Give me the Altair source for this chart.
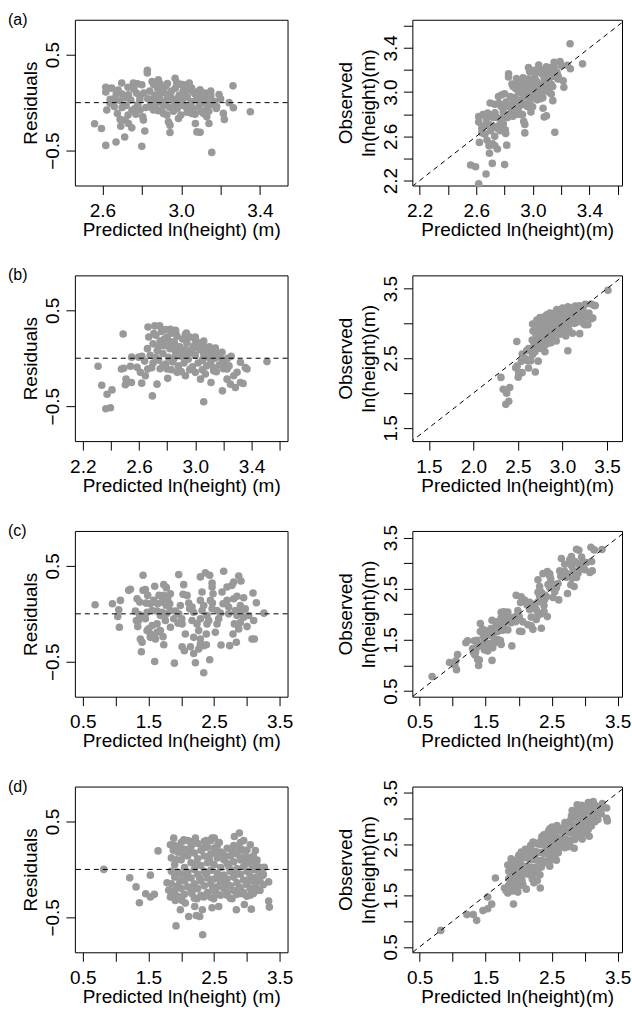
import altair as alt
import pandas as pd

FONT = "Liberation Sans"
DOT = "#999999"

# (predicted ln(height), residual)
pts_a = [
    (2.56, -0.22), (2.595, -0.27), (2.617, -0.446), (2.669, -0.41), (2.713, -0.358), (2.80, -0.456),
    (2.815, -0.295), (2.943, -0.312), (3.072, -0.218), (3.08, -0.305), (3.096, -0.31), (3.141, -0.218),
    (3.155, -0.519), (3.214, -0.112), (3.219, -0.175), (3.263, 0.175), (3.265, -0.053), (3.243, 0.0),
    (3.351, -0.095), (3.192, 0.084), (3.178, -0.06), (2.828, 0.337), (2.828, 0.309), (2.617, 0.161),
    (2.617, 0.112), (2.647, 0.151), (2.698, 0.204), (2.639, 0.035), (2.639, -0.007), (2.622, -0.077),
    (2.676, -0.112), (2.69, -0.175), (2.715, -0.182), (2.732, -0.218), (2.749, -0.263), (2.693, -0.246),
    (2.757, 0.204), (2.778, 0.196), (2.80, 0.186), (2.774, 0.098), (2.791, 0.063), (2.732, 0.081),
    (2.744, 0.028), (2.766, -0.06), (2.791, -0.077), (2.805, -0.147), (2.808, -0.182), (2.852, 0.221),
    (2.884, 0.239), (2.893, 0.196), (2.969, 0.253), (2.977, 0.21), (3.011, 0.186), (3.041, 0.204),
    (3.053, 0.151), (3.096, 0.133), (3.13, 0.081), (2.935, -0.2), (2.943, -0.235), (2.986, -0.165),
    (2.998, -0.13), (3.053, -0.112), (3.113, -0.112), (3.13, -0.147), (2.839, -0.042), (2.859, -0.077),
    (2.884, -0.084), (2.91, -0.112), (2.927, -0.13),
    (2.84, 0.12), (2.86, 0.05), (2.88, 0.15), (2.88, 0.00), (2.90, 0.10), (2.91, -0.03), (2.92, 0.17),
    (2.93, 0.06), (2.94, -0.05), (2.95, 0.12), (2.96, 0.02), (2.97, 0.15), (2.98, -0.06), (2.99, 0.08),
    (3.00, 0.00), (3.01, 0.12), (3.02, -0.04), (3.03, 0.06), (3.04, 0.14), (3.05, 0.01), (3.06, -0.07),
    (3.07, 0.09), (3.08, 0.03), (3.09, -0.04), (3.10, 0.06), (3.11, 0.00), (3.12, 0.10), (3.13, -0.06),
    (3.14, 0.03), (3.15, 0.07), (3.16, -0.02), (3.17, 0.01), (2.87, 0.08), (2.93, 0.20), (2.96, -0.09),
    (3.00, 0.19), (3.03, -0.10), (2.90, -0.08), (2.85, -0.02), (2.81, 0.10), (2.79, 0.03), (2.76, 0.14),
    (2.73, 0.16), (2.70, 0.09), (2.68, 0.13), (2.66, 0.04), (2.72, -0.03), (2.75, -0.08), (2.70, -0.05),
    (2.66, -0.04), (2.69, 0.02), (2.77, -0.12), (2.73, -0.13), (2.82, -0.05), (3.06, 0.11), (3.09, 0.12),
    (3.12, 0.05), (3.14, -0.09), (3.10, -0.09), (3.07, -0.12), (3.18, -0.04), (2.98, 0.04), (2.94, 0.09),
    (3.02, 0.09), (2.89, 0.04), (2.86, 0.19), (2.97, -0.02), (3.05, -0.03), (3.15, 0.12), (3.20, 0.04),
    (2.87, -0.05), (2.92, 0.01), (2.95, 0.05), (2.99, -0.03), (3.01, 0.04), (3.04, -0.06), (3.08, 0.06),
    (3.11, 0.08), (3.13, 0.01), (2.83, 0.04), (2.78, -0.02), (2.72, 0.05), (2.67, 0.09), (2.91, 0.13),
]

pts_b = [
    (2.309, -0.084), (2.335, -0.281), (2.373, -0.375), (2.408, -0.33), (2.364, -0.526), (2.397, -0.516),
    (2.487, 0.253), (2.475, -0.112), (2.491, -0.105), (2.508, -0.218), (2.503, -0.277), (2.546, -0.253),
    (2.539, -0.084), (2.548, 0.011), (2.598, 0.011), (2.586, -0.095), (2.619, -0.26), (2.695, -0.393),
    (2.664, 0.326), (2.712, 0.337), (2.747, 0.337), (2.669, 0.221), (2.705, 0.256), (2.804, -0.21),
    (2.728, -0.27), (2.823, 0.302), (2.859, 0.291), (2.937, 0.263), (3.00, 0.196), (3.06, -0.453),
    (3.112, -0.253), (3.143, 0.105), (3.19, 0.063), (3.193, -0.34), (3.255, 0.021), (3.285, -0.305),
    (3.321, -0.253), (3.226, -0.218), (3.25, -0.27), (3.34, -0.263), (3.356, -0.098), (3.368, -0.112),
    (3.321, -0.042), (3.51, -0.035), (3.226, -0.112), (3.273, -0.182), (3.297, -0.147), (2.61, -0.147),
    (2.645, -0.182), (2.662, -0.112), (2.80, -0.112), (2.871, -0.147), (2.93, -0.182), (3.037, -0.218),
    (3.072, -0.165), (3.131, -0.13), (2.965, -0.112), (3.00, -0.147),
    (2.66, 0.10), (2.68, 0.03), (2.70, 0.15), (2.70, -0.05), (2.72, 0.24), (2.73, 0.08), (2.74, -0.02),
    (2.75, 0.18), (2.76, 0.28), (2.77, 0.05), (2.78, 0.13), (2.79, -0.06), (2.80, 0.22), (2.81, 0.01),
    (2.82, 0.10), (2.83, 0.26), (2.84, -0.04), (2.85, 0.17), (2.86, 0.06), (2.87, 0.23), (2.88, -0.08),
    (2.89, 0.12), (2.90, 0.02), (2.91, 0.20), (2.92, -0.05), (2.93, 0.09), (2.94, 0.16), (2.95, -0.01),
    (2.96, 0.22), (2.97, 0.06), (2.98, -0.09), (2.99, 0.13), (3.00, 0.03), (3.01, 0.17), (3.02, -0.05),
    (3.03, 0.09), (3.04, 0.14), (3.05, -0.02), (3.06, 0.05), (3.07, 0.11), (3.08, -0.08), (3.09, 0.02),
    (3.10, 0.08), (3.11, -0.04), (3.12, 0.05), (3.13, -0.10), (3.14, 0.00), (3.16, 0.04), (3.17, -0.07),
    (3.19, -0.01), (3.21, -0.05), (3.23, 0.00), (3.24, -0.08), (2.64, -0.03), (2.62, 0.02), (2.69, -0.10),
    (2.75, -0.11), (2.83, -0.12), (2.90, -0.14), (2.96, -0.12), (3.05, -0.12), (3.15, -0.14), (3.20, -0.11),
    (2.79, 0.30), (2.86, 0.28), (2.93, 0.25), (3.00, 0.22), (3.06, 0.18),
    (2.74, 0.12), (2.78, 0.20), (2.82, 0.17), (2.86, 0.13), (2.90, 0.09), (2.94, 0.04), (2.98, 0.10),
    (3.02, 0.13), (3.06, 0.00), (3.10, 0.12), (3.14, 0.07), (2.72, 0.01), (2.77, -0.08), (2.85, 0.00),
]

pts_c = [
    (0.688, 0.094), (0.952, 0.105), (1.074, 0.14), (1.048, 0.042), (1.033, -0.028), (1.058, -0.14),
    (1.20, 0.245), (1.226, 0.255), (1.419, 0.402), (1.327, 0.157), (1.368, 0.122), (1.302, 0.028),
    (1.317, -0.07), (1.338, -0.133), (1.378, -0.262), (1.404, -0.297), (1.393, -0.395), (1.419, 0.245),
    (1.454, 0.252), (1.49, 0.192), (1.596, 0.287), (1.596, -0.497), (1.734, 0.304), (1.774, 0.273),
    (1.835, 0.21), (1.794, 0.157), (1.734, -0.322), (1.896, -0.514), (1.962, 0.409), (2.038, 0.304),
    (2.028, 0.203), (2.089, 0.192), (1.987, 0.087), (1.952, -0.098), (2.013, -0.105), (2.063, -0.21),
    (2.013, -0.343), (2.048, -0.385), (2.14, -0.343), (2.216, -0.51), (2.343, -0.615), (2.434, -0.479),
    (2.19, -0.413), (2.266, -0.367), (2.292, -0.315), (2.343, -0.332), (2.383, -0.322), (2.292, 0.385),
    (2.368, 0.427), (2.434, 0.402), (2.47, 0.322), (2.47, 0.28), (2.647, 0.444), (2.317, 0.227),
    (2.292, 0.14), (2.485, 0.21), (2.475, 0.112), (2.622, 0.227), (2.698, 0.28), (2.774, 0.297),
    (2.876, 0.395), (2.911, 0.343), (2.799, 0.332), (3.094, 0.217), (3.145, 0.115), (3.261, 0.007),
    (3.104, -0.07), (3.079, -0.262), (3.114, -0.262), (3.003, -0.133), (2.952, -0.035), (2.84, -0.297),
    (2.739, -0.332), (2.607, -0.325), (2.789, -0.21), (2.876, -0.157), (2.81, -0.105), (2.901, -0.091),
    (2.952, 0.168), (2.85, 0.182), (2.799, 0.157), (2.901, 0.087), (2.926, 0.035), (2.698, 0.14),
    (2.723, 0.07), (2.596, 0.007), (2.571, -0.052), (2.546, -0.105), (2.52, -0.192), (2.393, -0.105),
    (2.419, -0.07), (2.241, -0.105), (2.266, -0.175), (2.19, -0.245), (2.165, -0.07), (2.19, 0.017),
    (2.165, 0.07), (2.317, 0.035), (2.343, 0.087), (2.114, 0.112), (2.129, 0.052), (1.886, -0.052),
    (1.835, -0.14), (1.759, -0.07), (1.683, -0.017), (1.632, -0.105), (1.505, -0.157), (1.53, -0.21),
    (1.571, -0.227), (1.632, -0.192), (1.48, -0.175), (1.53, -0.245), (1.454, -0.052), (1.419, -0.035),
    (1.53, 0.105), (1.581, 0.14), (1.642, 0.105), (1.708, 0.122), (1.774, 0.087), (1.825, 0.105),
    (1.48, 0.017), (1.556, 0.035), (1.632, 0.028), (1.708, 0.017), (1.774, 0.0), (1.835, 0.035),
    (1.662, 0.192), (1.734, 0.192), (1.363, -0.007), (1.348, -0.07), (1.911, 0.028), (1.962, 0.0),
    (2.444, 0.14), (2.546, 0.035), (2.637, 0.105), (2.723, 0.0), (2.825, 0.035), (2.85, -0.017),
    (2.977, 0.052), (3.028, -0.017), (2.47, 0.052), (2.393, -0.017), (2.292, -0.052), (2.383, -0.21),
    (2.292, -0.262), (2.008, -0.052), (1.556, -0.122), (1.683, -0.175), (1.723, -0.238), (1.607, -0.262),
    (1.464, 0.112),
]

pts_d = [
    (0.82, 0.0), (1.216, -0.088), (1.312, -0.182), (1.363, -0.347), (1.459, -0.253), (1.53, -0.288),
    (1.591, -0.26), (1.53, -0.06), (1.647, 0.193), (1.921, -0.589), (1.987, -0.421), (2.114, -0.491),
    (2.231, -0.481), (2.282, -0.491), (2.206, -0.386), (2.327, -0.681), (2.322, -0.421), (2.47, -0.40),
    (2.571, -0.386), (2.84, -0.421), (2.962, -0.365), (3.068, -0.414), (3.332, -0.13), (3.332, -0.33),
    (3.343, -0.393), (3.246, -0.06), (3.266, 0.021), (3.155, 0.098), (3.13, 0.196), (3.053, 0.256),
    (2.952, 0.302), (2.886, 0.379), (2.81, 0.344), (2.926, 0.204), (2.47, 0.326), (2.505, 0.326),
    (2.216, 0.326), (2.038, 0.309), (1.886, 0.326), (1.835, 0.256), (1.86, -0.253), (1.784, -0.14),
    (1.81, -0.218), (1.835, -0.288), (1.911, -0.323), (2.013, -0.323), (2.063, -0.351), (2.165, -0.253),
    (2.241, -0.305), (2.343, -0.288), (2.393, -0.253), (2.495, -0.305), (2.546, -0.253), (2.698, -0.27),
    (2.774, -0.305), (2.926, -0.253), (3.053, -0.27), (3.13, -0.182), (3.155, -0.218), (3.079, -0.112),
    (3.003, -0.147),
    (1.85, 0.12), (1.85, -0.02), (1.85, -0.15), (1.90, 0.25), (1.90, 0.05), (1.90, -0.08), (1.90, -0.22),
    (1.95, 0.18), (1.95, -0.03), (1.95, -0.17), (1.95, -0.28), (2.00, 0.28), (2.00, 0.10), (2.00, -0.05),
    (2.00, -0.20), (2.05, 0.21), (2.05, 0.02), (2.05, -0.12), (2.05, -0.26), (2.10, 0.30), (2.10, 0.14),
    (2.10, -0.03), (2.10, -0.18), (2.15, 0.24), (2.15, 0.07), (2.15, -0.09), (2.15, -0.23), (2.20, 0.17),
    (2.20, 0.00), (2.20, -0.15), (2.20, -0.30), (2.25, 0.27), (2.25, 0.11), (2.25, -0.05), (2.25, -0.20),
    (2.30, 0.20), (2.30, 0.04), (2.30, -0.12), (2.30, -0.27), (2.35, 0.29), (2.35, 0.14), (2.35, -0.02),
    (2.35, -0.17), (2.40, 0.23), (2.40, 0.07), (2.40, -0.09), (2.40, -0.24), (2.45, 0.30), (2.45, 0.16),
    (2.45, -0.01), (2.45, -0.15), (2.45, -0.29), (2.50, 0.22), (2.50, 0.05), (2.50, -0.10), (2.50, -0.22),
    (2.55, 0.25), (2.55, 0.12), (2.55, -0.04), (2.55, -0.18), (2.60, 0.18), (2.60, 0.02), (2.60, -0.13),
    (2.60, -0.27), (2.65, 0.10), (2.65, -0.06), (2.65, -0.20), (2.70, 0.22), (2.70, 0.06), (2.70, -0.10),
    (2.70, -0.24), (2.75, 0.14), (2.75, -0.02), (2.75, -0.17), (2.75, -0.30), (2.80, 0.25), (2.80, 0.08),
    (2.80, -0.08), (2.80, -0.22), (2.85, 0.16), (2.85, 0.01), (2.85, -0.14), (2.85, -0.26), (2.90, 0.28),
    (2.90, 0.10), (2.90, -0.05), (2.90, -0.19), (2.95, 0.20), (2.95, 0.03), (2.95, -0.11), (2.95, -0.24),
    (3.00, 0.13), (3.00, -0.02), (3.00, -0.16), (3.00, -0.28), (3.05, 0.08), (3.05, -0.07), (3.05, -0.20),
    (3.10, 0.14), (3.10, 0.00), (3.10, -0.12), (3.10, -0.25), (3.15, 0.05), (3.15, -0.08), (3.15, -0.20),
    (3.20, 0.02), (3.20, -0.12), (3.20, -0.22), (3.25, -0.05), (3.25, -0.16),
    (1.88, 0.20), (1.93, 0.10), (1.98, -0.12), (2.03, 0.15), (2.08, -0.09), (2.13, 0.20), (2.18, -0.20),
    (2.23, 0.05), (2.28, -0.09), (2.33, 0.22), (2.38, -0.05), (2.43, 0.10), (2.48, -0.19), (2.53, 0.18),
    (2.58, -0.08), (2.63, 0.16), (2.68, -0.15), (2.73, 0.02), (2.78, 0.18), (2.83, -0.05), (2.88, -0.20),
    (2.93, 0.12), (2.98, 0.06), (3.03, -0.12), (3.08, 0.04), (3.13, -0.14), (3.18, -0.02), (2.58, 0.28),
    (2.38, 0.30), (2.18, 0.29), (1.98, 0.22), (2.68, 0.14), (2.88, 0.22), (3.00, 0.20),
]

panel_labels = ["(a)", "(b)", "(c)", "(d)"]
all_pts = [pts_a, pts_b, pts_c, pts_d]

# axis ticks (all) and the ones that carry a label
left_x_ticks = [
    [2.6, 2.8, 3.0, 3.2, 3.4],
    [2.2, 2.4, 2.6, 2.8, 3.0, 3.2, 3.4, 3.6],
    [0.5, 1.0, 1.5, 2.0, 2.5, 3.0, 3.5],
    [0.5, 1.0, 1.5, 2.0, 2.5, 3.0, 3.5],
]
left_x_labeled = [
    [2.6, 3.0, 3.4],
    [2.2, 2.6, 3.0, 3.4],
    [0.5, 1.5, 2.5, 3.5],
    [0.5, 1.5, 2.5, 3.5],
]
right_x_ticks = [
    [2.2, 2.4, 2.6, 2.8, 3.0, 3.2, 3.4, 3.6],
    [1.5, 2.0, 2.5, 3.0, 3.5],
    [0.5, 1.0, 1.5, 2.0, 2.5, 3.0, 3.5],
    [0.5, 1.0, 1.5, 2.0, 2.5, 3.0, 3.5],
]
right_x_labeled = [
    [2.2, 2.6, 3.0, 3.4],
    [1.5, 2.0, 2.5, 3.0, 3.5],
    [0.5, 1.5, 2.5, 3.5],
    [0.5, 1.5, 2.5, 3.5],
]
right_y_ticks = [
    [2.2, 2.4, 2.6, 2.8, 3.0, 3.2, 3.4, 3.6],
    [1.5, 2.0, 2.5, 3.0, 3.5],
    [0.5, 1.0, 1.5, 2.0, 2.5, 3.0, 3.5],
    [0.5, 1.0, 1.5, 2.0, 2.5, 3.0, 3.5],
]
right_y_labeled = [
    [2.2, 2.6, 3.0, 3.4],
    [1.5, 2.5, 3.5],
    [0.5, 1.5, 2.5, 3.5],
    [0.5, 1.5, 2.5, 3.5],
]
resid_ticks = [-0.5, 0.5]

# scale domains (R default 4% expansion)
left_x_dom = [[2.46, 3.54], [2.144, 3.656], [0.38, 3.62], [0.38, 3.62]]
left_y_dom = [-0.864, 0.864]
right_x_dom = [[2.148, 3.63], [1.315, 3.668], [0.389, 3.565], [0.389, 3.565]]
right_y_dom = [[2.155, 3.655], [1.31, 3.69], [0.389, 3.63], [0.394, 3.62]]

LW, RW, H = 213, 210, 166


def lab_expr(labeled):
    arr = ",".join(repr(v) for v in labeled)
    return f"indexof([{arr}], datum.value) >= 0 ? format(datum.value, '.1f') : ''"


common = dict(
    grid=False, domain=False, ticks=True, tickSize=9, tickColor="black", tickWidth=1,
    labelFont=FONT, labelFontSize=19, labelColor="black", labelFlush=False, labelOverlap=False,
    titleFont=FONT, titleFontSize=19, titleFontWeight="normal", titleColor="black",
)


def x_axis(ticks, labeled, title, w):
    return alt.Axis(values=ticks, labelExpr=lab_expr(labeled), title=title, labelPadding=7,
                    titleX=w / 2, titleY=50, titleAlign="center", titleBaseline="alphabetic", **common)


def y_axis(ticks, labeled, title, tx):
    return alt.Axis(values=ticks, labelExpr=lab_expr(labeled), title=title, labelAngle=270,
                    labelAlign="center", labelBaseline="bottom", labelPadding=3,
                    titleAngle=270, titleX=tx, titleY=H / 2, titleAlign="center",
                    titleBaseline="alphabetic", titleLineHeight=23, **common)


panels = []
for i in range(4):
    pts = all_pts[i]
    pred = [p for p, r in pts]
    resid = [r for p, r in pts]
    obs = [p + r for p, r in pts]

    lx = alt.X("pred:Q", scale=alt.Scale(domain=left_x_dom[i], nice=False, zero=False),
               axis=x_axis(left_x_ticks[i], left_x_labeled[i], "Predicted ln(height) (m)", LW))
    ly = alt.Y("resid:Q", scale=alt.Scale(domain=left_y_dom, nice=False, zero=False),
               axis=y_axis(resid_ticks, resid_ticks, "Residuals", -38))

    df_l = pd.DataFrame({"pred": pred, "resid": resid})
    left_pts = alt.Chart(df_l).mark_circle(size=58, color=DOT, opacity=1).encode(x=lx, y=ly)
    zero = alt.Chart(pd.DataFrame({"resid": [0.0]})).mark_rule(
        color="black", strokeWidth=1, strokeDash=[5, 4]).encode(y=ly)
    tag = alt.Chart(pd.DataFrame({"t": [panel_labels[i]]})).mark_text(
        align="left", baseline="middle", font=FONT, fontSize=16, color="black").encode(
        x=alt.value(-67), y=alt.value(0), text="t:N")
    left = alt.layer(left_pts, zero, tag).properties(width=LW, height=H)

    rx = alt.X("pred:Q", scale=alt.Scale(domain=right_x_dom[i], nice=False, zero=False),
               axis=x_axis(right_x_ticks[i], right_x_labeled[i], "Predicted ln(height)(m)", RW))
    ry = alt.Y("obs:Q", scale=alt.Scale(domain=right_y_dom[i], nice=False, zero=False),
               axis=y_axis(right_y_ticks[i], right_y_labeled[i], ["Observed", "ln(height)(m)"], -61))

    df_r = pd.DataFrame({"pred": pred, "obs": obs})
    right_pts = alt.Chart(df_r).mark_circle(size=58, color=DOT, opacity=1).encode(x=rx, y=ry)
    lo = min(right_x_dom[i][0], right_y_dom[i][0]) - 0.1
    hi = max(right_x_dom[i][1], right_y_dom[i][1]) + 0.1
    diag = alt.Chart(pd.DataFrame({"pred": [lo, hi], "obs": [lo, hi]})).mark_line(
        color="black", strokeWidth=1, strokeDash=[5, 4], clip=True).encode(x=rx, y=ry)
    right = alt.layer(right_pts, diag).properties(width=RW, height=H)

    panels += [left, right]

chart = alt.concat(
    *panels, columns=2, spacing={"row": 90, "column": 125}, bounds="flush",
    padding={"left": 7, "top": 10, "right": 0, "bottom": 0},
).configure(font=FONT).configure_view(stroke="black", strokeWidth=1)

chart.save("out.html", embed_options={"renderer": "svg", "actions": False})
